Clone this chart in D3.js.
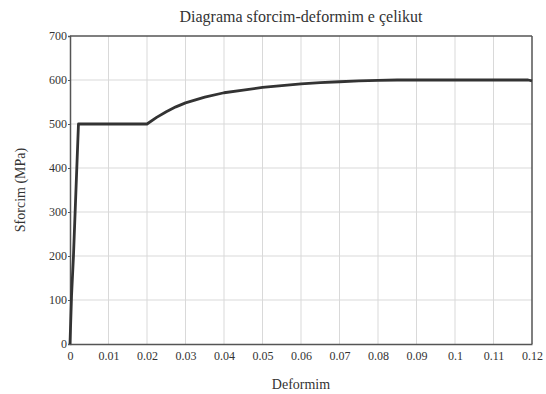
<!DOCTYPE html>
<html>
<head>
<meta charset="utf-8">
<script src="https://cdn.jsdelivr.net/npm/d3@7"></script>
<style>
  body { margin: 0; background: #fff; }
  svg text { font-family: "Liberation Serif", "Times New Roman", serif !important; fill: #333; }
</style>
</head>
<body>
<div id="chart"></div>
<script>
// strain (-) and stress (MPa)
const strain = [0, 0.0004, 0.0009, 0.0022, 0.02, 0.0225, 0.025, 0.0275, 0.03, 0.035, 0.04,
                0.045, 0.05, 0.055, 0.06, 0.065, 0.07, 0.075, 0.08, 0.085, 0.09, 0.1, 0.11, 0.119, 0.12];
const stress = [0, 110, 200, 500, 500, 515, 528, 539, 548, 561, 571,
                577, 583, 587, 591, 594, 596, 598, 599, 600, 600, 600, 600, 600, 598];
const xTicks = [0, 0.01, 0.02, 0.03, 0.04, 0.05, 0.06, 0.07, 0.08, 0.09, 0.1, 0.11, 0.12];
const yTicks = [0, 100, 200, 300, 400, 500, 600, 700];

const W = 546, H = 394;
const margin = {top: 36, right: 14, bottom: 50, left: 70};
const width = W - margin.left - margin.right;
const height = H - margin.top - margin.bottom;

const svg = d3.select('#chart').append('svg')
    .attr('width', W)
    .attr('height', H);

const g = svg.append('g')
    .attr('transform', 'translate(' + margin.left + ',' + margin.top + ')');

const x = d3.scaleLinear().domain([0, 0.12]).range([0, width]);
const y = d3.scaleLinear().domain([0, 700]).range([height, 0]);

// grid
g.append('g').selectAll('line')
    .data(xTicks.slice(1, -1))
    .enter().append('line')
    .attr('x1', d => x(d)).attr('x2', d => x(d))
    .attr('y1', 0).attr('y2', height)
    .attr('stroke', '#d9d9d9').attr('stroke-width', 1);
g.append('g').selectAll('line')
    .data(yTicks.slice(1, -1))
    .enter().append('line')
    .attr('y1', d => y(d)).attr('y2', d => y(d))
    .attr('x1', 0).attr('x2', width)
    .attr('stroke', '#d9d9d9').attr('stroke-width', 1);

// axes
const xAxis = g.append('g')
    .attr('transform', 'translate(0,' + height + ')')
    .call(d3.axisBottom(x).tickValues(xTicks).tickFormat(d => String(+d.toFixed(2))).tickSize(0).tickPadding(7));
const yAxis = g.append('g')
    .call(d3.axisLeft(y).tickValues(yTicks).tickSize(2).tickPadding(1));

[xAxis, yAxis].forEach(a => {
    a.attr('font-family', null).attr('font-size', null);
    a.select('.domain').attr('stroke', '#555').attr('stroke-width', 1.5);
    a.selectAll('.tick line').attr('stroke', '#555');
    a.selectAll('text').style('font-size', '12px').style('fill', '#333');
});

// top and right border
g.append('line').attr('x1', 0).attr('x2', width).attr('y1', 0).attr('y2', 0)
    .attr('stroke', '#555').attr('stroke-width', 1.5);
g.append('line').attr('x1', width).attr('x2', width).attr('y1', 0).attr('y2', height)
    .attr('stroke', '#555').attr('stroke-width', 1.5);

// curve
const pts = strain.map((s, i) => [s, stress[i]]);
g.append('path')
    .datum(pts)
    .attr('fill', 'none')
    .attr('stroke', '#333')
    .attr('stroke-width', 2.8)
    .attr('stroke-linejoin', 'round')
    .attr('d', d3.line().x(d => x(d[0])).y(d => y(d[1])));

// titles
svg.append('text')
    .attr('x', margin.left + width / 2).attr('y', 22)
    .attr('text-anchor', 'middle').style('font-size', '16px')
    .text('Diagrama sforcim-deformim e çelikut');
svg.append('text')
    .attr('x', margin.left + width / 2).attr('y', 389)
    .attr('text-anchor', 'middle').style('font-size', '14px')
    .text('Deformim');
svg.append('text')
    .attr('transform', 'translate(25,' + (margin.top + height / 2) + ') rotate(-90)')
    .attr('text-anchor', 'middle').style('font-size', '14px')
    .text('Sforcim (MPa)');
</script>
</body>
</html>
